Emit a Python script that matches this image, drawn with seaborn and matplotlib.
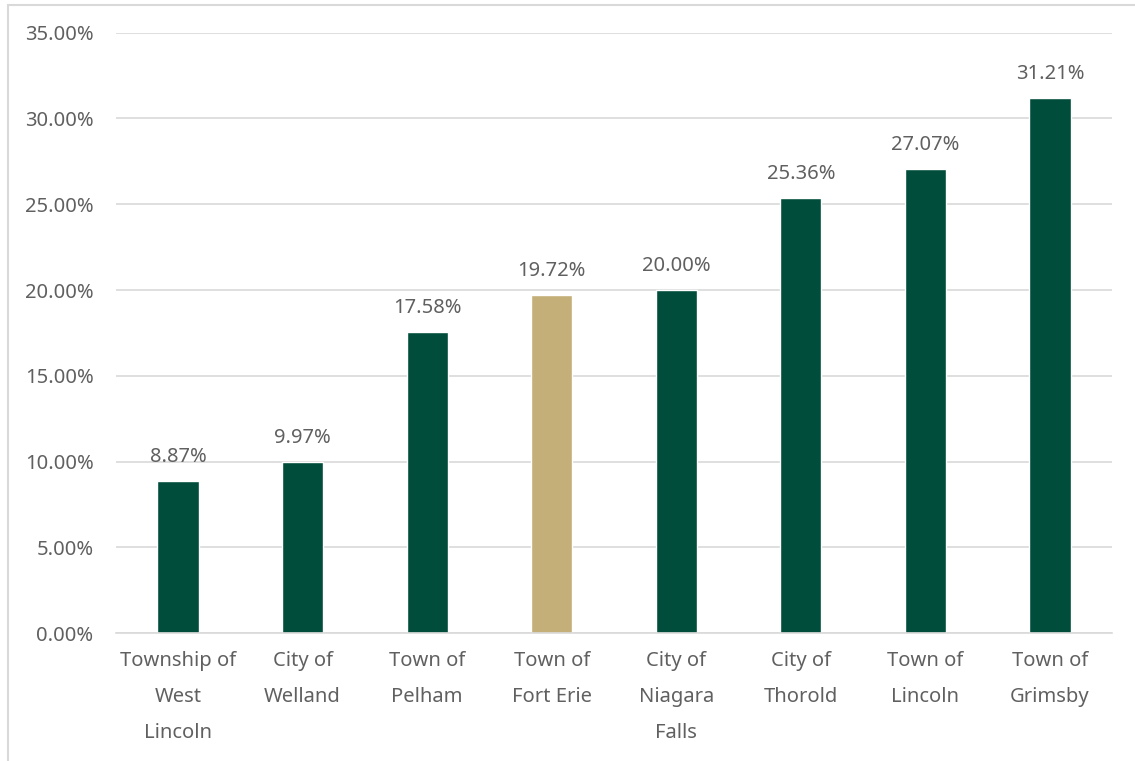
import matplotlib
matplotlib.use("Agg")
import matplotlib.pyplot as plt
import seaborn as sns
import pandas as pd
from matplotlib.patches import Rectangle
from matplotlib.ticker import FuncFormatter, MultipleLocator

categories = ["Township of\nWest\nLincoln", "City of\nWelland", "Town of\nPelham", "Town of\nFort Erie",
              "City of\nNiagara\nFalls", "City of\nThorold", "Town of\nLincoln", "Town of\nGrimsby"]
values = [8.87, 9.97, 17.58, 19.72, 20.00, 25.36, 27.07, 31.21]
highlight = "Town of\nFort Erie"

GREEN = "#004D3B"
GOLD = "#C4AF78"
TEXT = "#606060"
GRID = "#D9D9D9"

df = pd.DataFrame({"cat": categories, "val": values})
df["grp"] = ["hl" if c == highlight else "base" for c in categories]

sns.set_theme(style="white")
plt.rcParams["font.family"] = ["Noto Sans", "DejaVu Sans"]

fig = plt.figure(figsize=(11.35, 7.61), dpi=100)
ax = fig.add_axes([0.102, 0.168, 0.878, 0.789])

sns.barplot(data=df, x="cat", y="val", hue="grp", palette={"base": GREEN, "hl": GOLD},
            width=0.33, dodge=False, legend=False, ax=ax, saturation=1)

ax.set_ylim(0, 35)
ax.yaxis.set_major_locator(MultipleLocator(5))
ax.yaxis.set_major_formatter(FuncFormatter(lambda v, p: f"{v:.2f}%"))
ax.grid(axis="y", color=GRID, linewidth=1.2)
ax.set_axisbelow(True)
for s in ["top", "right", "left"]:
    ax.spines[s].set_visible(False)
ax.spines["bottom"].set_color(GRID)
ax.spines["bottom"].set_linewidth(1.2)
ax.set_xlabel("")
ax.set_ylabel("")
ax.tick_params(axis="both", length=0, colors=TEXT, labelsize=14.5)
ax.tick_params(axis="y", pad=16)
ax.tick_params(axis="x", pad=13)
for lbl in ax.get_xticklabels():
    lbl.set_linespacing(2.05)
    lbl.set_verticalalignment("top")

for i, v in enumerate(values):
    ax.annotate(f"{v:.2f}%", (i, v), xytext=(0, 10), textcoords="offset points",
                ha="center", va="bottom", color=TEXT, fontsize=14.5)

fig.patches.append(Rectangle((8 / 1135, -0.01), 1.1, (761 - 5) / 761 + 0.01,
                             transform=fig.transFigure, fill=False,
                             edgecolor=GRID, linewidth=1.5, zorder=0))

fig.savefig("out.png", dpi=100, facecolor="white")
